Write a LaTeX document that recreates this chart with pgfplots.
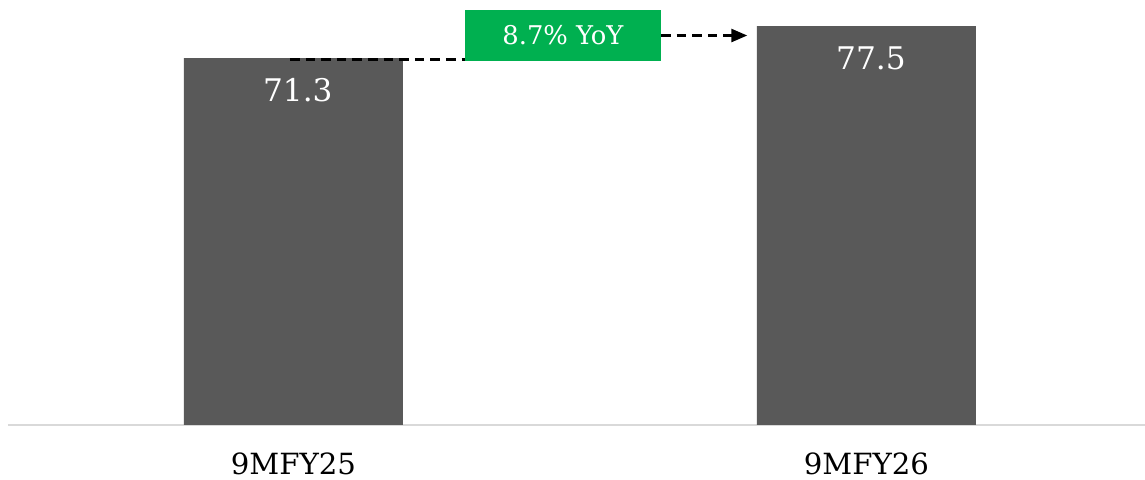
\documentclass[border=0pt]{standalone}
\usepackage{pgfplots}
\pgfplotsset{compat=1.18}
\usepackage{fontspec}
\setmainfont{DejaVu Serif}
\usetikzlibrary{arrows.meta}
\definecolor{bargray}{HTML}{595959}
\definecolor{yoygreen}{HTML}{00B050}
\definecolor{baseline}{HTML}{D9D9D9}
\begin{document}
\begin{tikzpicture}
\path[use as bounding box] (-4pt,-27.5pt) rectangle (568.5pt,212.5pt);
\begin{axis}[
  at={(0,0)}, anchor=south west,
  scale only axis,
  width=568.5pt, height=212.5pt,
  xmin=-0.498, xmax=1.486,
  ymin=0, ymax=82.57,
  axis x line*=bottom,
  hide y axis,
  x axis line style={draw=baseline, line width=0.8pt, -},
  xtick={0,1},
  xticklabels={9MFY25,9MFY26},
  xtick style={draw=none},
  xticklabel style={anchor=center, yshift=-19.5pt, font=\fontsize{14.6}{16}\selectfont},
  clip=false,
]
\addplot[ybar, bar width=109.5pt, bar shift=0pt, fill=bargray, draw=none]
  coordinates {(0,71.3) (1,77.5)};
% value labels inside the bars
\node[text=white, font=\fontsize{15.6}{17}\selectfont] at (axis cs:0,71.3) [xshift=2.2pt, yshift=-16pt] {71.3};
\node[text=white, font=\fontsize{15.6}{17}\selectfont] at (axis cs:1,77.5) [xshift=2.2pt, yshift=-16pt] {77.5};
% growth connector
\draw[black, line width=1.3pt, dash pattern=on 4.8pt off 3pt]
  (axis cs:-0.006,71.0) -- (axis cs:0.2993,71.0);
\draw[black, line width=1.3pt, dash pattern=on 4.8pt off 3pt,
      -{Triangle[length=8pt,width=6.5pt]}]
  (axis cs:0.6414,75.67) -- (axis cs:0.792,75.67);
\fill[yoygreen] (axis cs:0.2993,70.7) rectangle (axis cs:0.6414,80.6);
\node[text=white, font=\fontsize{12.9}{14}\selectfont] at (axis cs:0.4704,75.67) {8.7\% YoY};
\end{axis}
\end{tikzpicture}
\end{document}
